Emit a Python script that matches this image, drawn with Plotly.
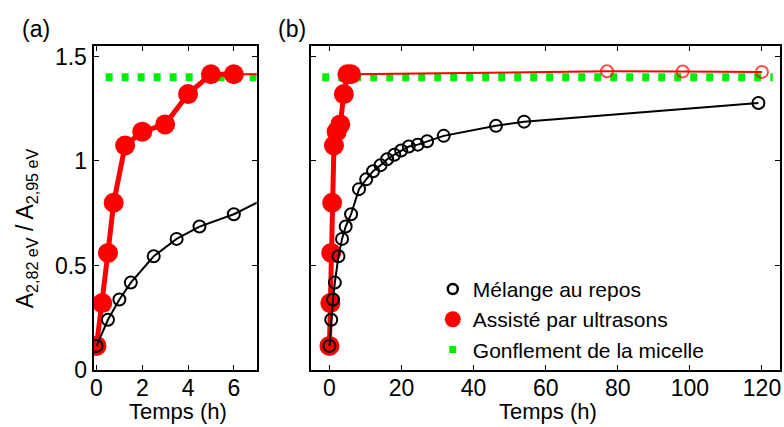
import plotly.graph_objects as go

# Mélange au repos (black, open circles)
t_repos = [0, 0.5, 1, 1.5, 2.5, 3.5, 4.5, 6, 8.2, 10.2, 12.1, 14.2, 16, 18,
           19.9, 22, 24.5, 27.1, 31.7, 46.2, 54, 119]
a_repos = [0.115, 0.24, 0.337, 0.418, 0.544, 0.627, 0.686, 0.745, 0.865, 0.912,
           0.951, 0.98, 1.008, 1.03, 1.05, 1.069, 1.078, 1.094, 1.12, 1.168,
           1.188, 1.277]

# Assisté par ultrasons (red, filled circles, first 6 h)
t_ultra = [0, 0.25, 0.5, 0.75, 1.25, 2, 3, 4, 5, 6]
a_ultra = [0.115, 0.32, 0.56, 0.80, 1.074, 1.14, 1.175, 1.32, 1.415, 1.415]

# later measurements (red, open circles)
t_ultra_long = [6, 77, 98, 120]
a_ultra_long = [1.415, 1.429, 1.428, 1.426]

# Gonflement de la micelle (green dotted level)
a_micelle = 1.40
t_micelle_a = [0.4, 7.2]
t_micelle_b = [-2, 123]

x_ticks_a = [0, 2, 4, 6]
x_ticks_b = [0, 20, 40, 60, 80, 100, 120]
y_ticks = [0, 0.5, 1, 1.5]
y_tick_labels = ["0", "0.5", "1", "1.5"]

RED = "#ff0000"
GREEN = "#00ee00"
FONT = "Liberation Sans, Arial, sans-serif"
W, H = 784, 427


def px(x):
    return x / W


def py(y):
    # small empirical vertical correction seen in the rendered page
    return 1 - ((y + 2) / 0.98) / H


fig = go.Figure()

for xa, ya, t_mic in [("x", "y", t_micelle_a), ("x2", "y2", t_micelle_b)]:
    fig.add_trace(go.Scatter(x=t_mic, y=[a_micelle] * len(t_mic), mode="lines",
                             line=dict(color=GREEN, width=8, dash="7px,9px"),
                             xaxis=xa, yaxis=ya, showlegend=False, hoverinfo="skip"))
    fig.add_trace(go.Scatter(x=t_ultra_long, y=a_ultra_long, mode="lines+markers",
                             line=dict(color=RED, width=2),
                             marker=dict(symbol="circle-open", size=[0, 12, 12, 12],
                                         color=RED, line=dict(width=2)),
                             xaxis=xa, yaxis=ya, showlegend=False))
    fig.add_trace(go.Scatter(x=t_ultra, y=a_ultra, mode="lines+markers",
                             line=dict(color=RED, width=5),
                             marker=dict(symbol="circle", size=20, color=RED),
                             xaxis=xa, yaxis=ya, showlegend=False))
    fig.add_trace(go.Scatter(x=t_repos, y=a_repos, mode="lines+markers",
                             line=dict(color="black", width=2),
                             marker=dict(symbol="circle-open", size=12, color="black",
                                         line=dict(width=2)),
                             xaxis=xa, yaxis=ya, showlegend=False))

# legend-only entries
fig.add_trace(go.Scatter(x=[None], y=[None], mode="markers", name="Mélange au repos",
                         marker=dict(symbol="circle-open", size=10, color="black",
                                     line=dict(width=2.5)),
                         xaxis="x2", yaxis="y2"))
fig.add_trace(go.Scatter(x=[None], y=[None], mode="markers", name="Assisté par ultrasons",
                         marker=dict(symbol="circle", size=16, color=RED),
                         xaxis="x2", yaxis="y2"))
fig.add_trace(go.Scatter(x=[None], y=[None], mode="markers", name="Gonflement de la micelle",
                         marker=dict(symbol="square", size=7, color=GREEN),
                         xaxis="x2", yaxis="y2"))

ax = dict(showline=True, linecolor="black", linewidth=2, mirror="ticks",
          ticks="inside", ticklen=5, tickwidth=1, tickcolor="black",
          showgrid=False, zeroline=False,
          tickfont=dict(family=FONT, size=23, color="black"))

ydom = [py(371.7), py(42.7)]
fig.update_layout(
    width=W, height=H,
    margin=dict(l=0, r=0, t=0, b=0),
    paper_bgcolor="white", plot_bgcolor="white",
    font=dict(family=FONT, size=21, color="black"),
    xaxis=dict(ax, domain=[px(91), px(255)], range=[-0.13, 7], tickvals=x_ticks_a,
               ticklabelstandoff=-4),
    yaxis=dict(ax, domain=ydom, range=[0, 1.55], tickvals=y_ticks,
               ticktext=y_tick_labels),
    xaxis2=dict(ax, domain=[px(310), px(781)], range=[-5, 125], tickvals=x_ticks_b,
                anchor="y2", ticklabelstandoff=-4),
    yaxis2=dict(ax, domain=ydom, range=[0, 1.55], tickvals=y_ticks,
                showticklabels=False, anchor="x2"),
    legend=dict(x=px(432), y=py(269), xanchor="left", yanchor="top",
                bgcolor="rgba(0,0,0,0)", font=dict(size=21),
                itemwidth=30, tracegroupgap=0),
    showlegend=True,
)

labels = [
    ("Temps (h)", 176, 414, 0, 22),
    ("Temps (h)", 548, 414, 0, 22),
    ("A<sub>2,82 eV</sub> / A<sub>2,95 eV</sub>", 24, 228, -90, 23),
    ("(a)", 33, 25, 0, 23),
    ("(b)", 290, 25, 0, 23),
]
for text, x, y, ang, size in labels:
    fig.add_annotation(text=text, x=px(x), y=py(y), xref="paper", yref="paper",
                       xanchor="center", yanchor="middle", showarrow=False,
                       textangle=ang, font=dict(size=size))

fig.write_html("out.html", config={"displayModeBar": False},
               post_script="document.body.style.margin='0';")
